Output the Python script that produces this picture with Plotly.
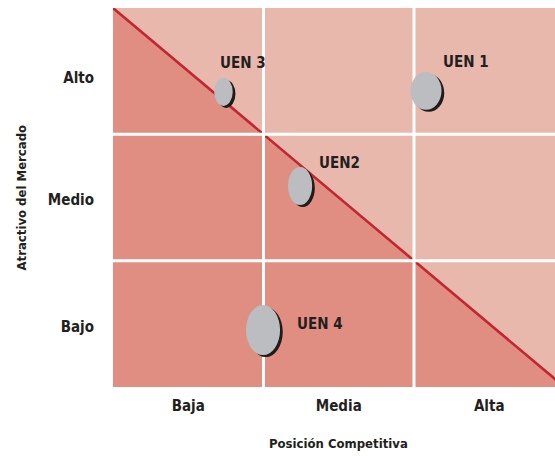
import plotly.graph_objects as go

# ---- data ----
col_labels = ["Baja", "Media", "Alta"]
row_labels = ["Bajo", "Medio", "Alto"]
uen_names = ["UEN 1", "UEN2", "UEN 3", "UEN 4"]
uen_x = [2.08, 1.243, 0.734, 0.997]      # Posición Competitiva
uen_y = [2.344, 1.591, 2.336, 0.451]     # Atractivo del Mercado
uen_w = [0.206, 0.16, 0.123, 0.226]      # bubble width (x units)
uen_h = [0.30, 0.30, 0.222, 0.396]       # bubble height (y units)
label_x = [2.346, 1.502, 0.864, 1.375]
label_y = [2.573, 1.774, 2.565, 0.499]
boundaries = [1, 2]

XMAX = 2.937
YMAX = 3.0

LIGHT = "#e8b8ac"
DARK = "#e08e82"
RED = "#c4262f"
GRAY = "#bbbdc1"
SHADOW = "#1e1c1d"
TXT = "#231f20"
FONT = "Liberation Sans Narrow, Arial Narrow, DejaVu Sans Condensed, sans-serif"

fig = go.Figure()

# lower-left darker triangle
fig.add_trace(go.Scatter(x=[0, 0, 3, 0], y=[0, 3, 0, 0], fill="toself",
                         fillcolor=DARK, line=dict(width=0), mode="lines",
                         hoverinfo="skip", showlegend=False))
# diagonal
fig.add_trace(go.Scatter(x=[0, 3], y=[3, 0], mode="lines",
                         line=dict(color=RED, width=2.6),
                         hoverinfo="skip", showlegend=False))
# white grid lines
for b in boundaries:
    fig.add_trace(go.Scatter(x=[b, b], y=[0, YMAX], mode="lines",
                             line=dict(color="white", width=3),
                             hoverinfo="skip", showlegend=False))
    fig.add_trace(go.Scatter(x=[0, XMAX], y=[b, b], mode="lines",
                             line=dict(color="white", width=3),
                             hoverinfo="skip", showlegend=False))

# bubbles (ellipses) with shadow
dx, dy = 0.018, -0.016
for cx, cy, w, h in zip(uen_x, uen_y, uen_w, uen_h):
    fig.add_shape(type="circle", xref="x", yref="y",
                  x0=cx - w / 2 + dx, x1=cx + w / 2 + dx,
                  y0=cy - h / 2 + dy, y1=cy + h / 2 + dy,
                  fillcolor=SHADOW, line=dict(width=0), layer="above")
    fig.add_shape(type="circle", xref="x", yref="y",
                  x0=cx - w / 2, x1=cx + w / 2,
                  y0=cy - h / 2, y1=cy + h / 2,
                  fillcolor=GRAY, line=dict(width=0), layer="above")

for name, lx, ly in zip(uen_names, label_x, label_y):
    fig.add_annotation(x=lx, y=ly, xref="x", yref="y", text=name,
                       showarrow=False, xanchor="center", yanchor="middle",
                       font=dict(family=FONT, size=15, color=TXT, weight=700))

# axis titles
fig.add_annotation(x=0.511, y=-0.148, xref="paper", yref="paper",
                   text="Posición Competitiva", showarrow=False,
                   xanchor="center", yanchor="middle",
                   font=dict(family=FONT, size=13, color=TXT, weight=700))
fig.add_annotation(x=-0.206, y=0.5, xref="paper", yref="paper",
                   text="Atractivo del Mercado", showarrow=False, textangle=-90,
                   xanchor="center", yanchor="middle",
                   font=dict(family=FONT, size=13, color=TXT, weight=700))

fig.update_layout(
    width=555, height=456,
    margin=dict(l=113, r=0, t=8, b=69),
    paper_bgcolor="white", plot_bgcolor=LIGHT,
    showlegend=False,
    xaxis=dict(range=[0, XMAX], tickvals=[0.5, 1.5, 2.5], ticktext=col_labels,
               showgrid=False, zeroline=False, showline=False,
               ticklabelstandoff=8,
               tickfont=dict(family=FONT, size=15, color=TXT, weight=700),
               fixedrange=True),
    yaxis=dict(range=[0, YMAX], tickvals=[0.48, 1.48, 2.45], ticktext=row_labels,
               showgrid=False, zeroline=False, showline=False,
               ticklabelstandoff=18,
               tickfont=dict(family=FONT, size=15, color=TXT, weight=700),
               fixedrange=True),
)

fig.write_html("out.html")
